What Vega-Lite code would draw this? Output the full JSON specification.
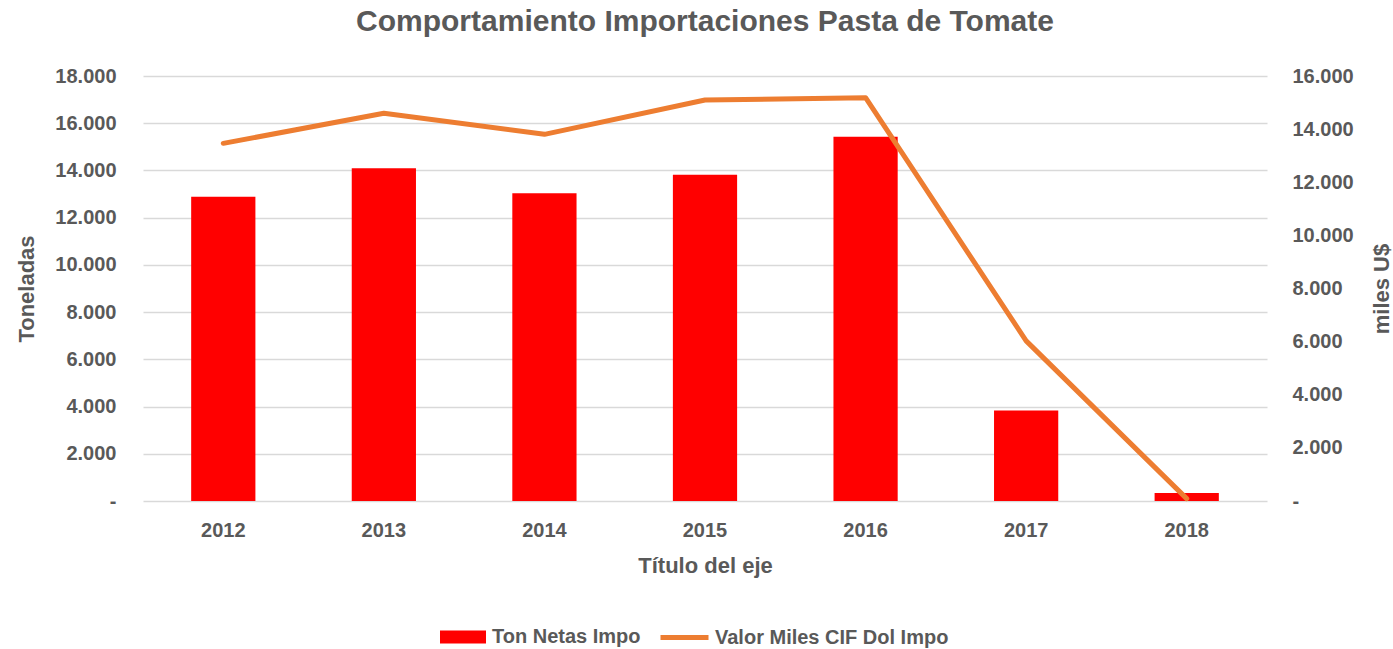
{
  "$schema": "https://vega.github.io/schema/vega-lite/v6.json",
  "width": 1124,
  "height": 425,
  "autosize": {"type": "none"},
  "padding": {"left": 143, "top": 76, "right": 126, "bottom": 148},
  "background": "white",
  "config": {
    "font": "Liberation Sans",
    "view": {"stroke": null}
  },
  "title": {
    "text": "Comportamiento Importaciones Pasta de Tomate",
    "fontSize": 30,
    "font": "Liberation Sans",
    "fontWeight": "bold",
    "color": "#595959",
    "anchor": "middle",
    "offset": 29
  },
  "data": {
    "values": [
      {"year": "2012", "ton": 12885, "valor": 13465},
      {"year": "2013", "ton": 14088, "valor": 14595},
      {"year": "2014", "ton": 13029, "valor": 13804},
      {"year": "2015", "ton": 13817, "valor": 15096},
      {"year": "2016", "ton": 15427, "valor": 15183},
      {"year": "2017", "ton": 3831, "valor": 6028},
      {"year": "2018", "ton": 339, "valor": 90}
    ]
  },
  "layer": [
    {
      "mark": {"type": "bar"},
      "encoding": {
        "x": {
          "field": "year",
          "type": "ordinal",
          "scale": {"paddingInner": 0.6, "paddingOuter": 0.3},
          "axis": {
            "title": "Título del eje",
            "titleFont": "Liberation Sans",
            "titleFontSize": 22,
            "titleFontWeight": "bold",
            "titleColor": "#595959",
            "titlePadding": 15,
            "labelFont": "Liberation Sans",
            "labelFontSize": 20,
            "labelFontWeight": "bold",
            "labelColor": "#595959",
            "labelAngle": 0,
            "labelPadding": 19,
            "domain": false,
            "ticks": false
          }
        },
        "y": {
          "field": "ton",
          "type": "quantitative",
          "scale": {"domain": [0, 18000], "nice": false},
          "axis": {
            "title": "Toneladas",
            "values": [0, 2000, 4000, 6000, 8000, 10000, 12000, 14000, 16000, 18000],
            "labelExpr": "datum.value == 0 ? '-' : format(datum.value / 1000, '.3f')",
            "titleFont": "Liberation Sans",
            "titleFontSize": 22,
            "titleFontWeight": "bold",
            "titleColor": "#595959",
            "titlePadding": 16,
            "labelFont": "Liberation Sans",
            "labelFontSize": 20,
            "labelFontWeight": "bold",
            "labelColor": "#595959",
            "labelPadding": 27,
            "domain": false,
            "ticks": false,
            "grid": true,
            "gridColor": "#d9d9d9",
            "gridWidth": 1.5
          }
        },
        "fill": {
          "datum": "Ton Netas Impo",
          "type": "nominal",
          "scale": {"range": ["#FF0000"]},
          "legend": {
            "title": null,
            "orient": "none",
            "legendX": 297,
            "legendY": 538,
            "symbolType": "M-1,-0.28H1V0.28H-1Z",
            "symbolSize": 2116,
            "symbolStrokeWidth": 0,
            "labelFont": "Liberation Sans",
            "labelFontSize": 20,
            "labelFontWeight": "bold",
            "labelColor": "#595959",
            "labelOffset": 6,
            "labelLimit": 400
          }
        }
      }
    },
    {
      "mark": {"type": "line", "strokeWidth": 5, "strokeCap": "round", "strokeJoin": "round"},
      "encoding": {
        "x": {"field": "year", "type": "ordinal"},
        "y": {
          "field": "valor",
          "type": "quantitative",
          "scale": {"domain": [0, 16000], "nice": false},
          "axis": {
            "orient": "right",
            "title": "miles U$",
            "titleAngle": 270,
            "values": [0, 2000, 4000, 6000, 8000, 10000, 12000, 14000, 16000],
            "labelExpr": "datum.value == 0 ? '-' : format(datum.value / 1000, '.3f')",
            "titleFont": "Liberation Sans",
            "titleFontSize": 22,
            "titleFontWeight": "bold",
            "titleColor": "#595959",
            "titlePadding": 40,
            "labelFont": "Liberation Sans",
            "labelFontSize": 20,
            "labelFontWeight": "bold",
            "labelColor": "#595959",
            "labelPadding": 25,
            "domain": false,
            "ticks": false,
            "grid": false
          }
        },
        "stroke": {
          "datum": "Valor Miles CIF Dol Impo",
          "type": "nominal",
          "scale": {"range": ["#ED7D31"]},
          "legend": {
            "title": null,
            "orient": "none",
            "legendX": 515,
            "legendY": 535,
            "symbolType": "stroke",
            "symbolSize": 2304,
            "symbolStrokeWidth": 5,
            "labelFont": "Liberation Sans",
            "labelFontSize": 20,
            "labelFontWeight": "bold",
            "labelColor": "#595959",
            "labelOffset": 4,
            "labelLimit": 400
          }
        }
      }
    }
  ],
  "resolve": {"scale": {"y": "independent", "fill": "independent", "stroke": "independent"}}
}
